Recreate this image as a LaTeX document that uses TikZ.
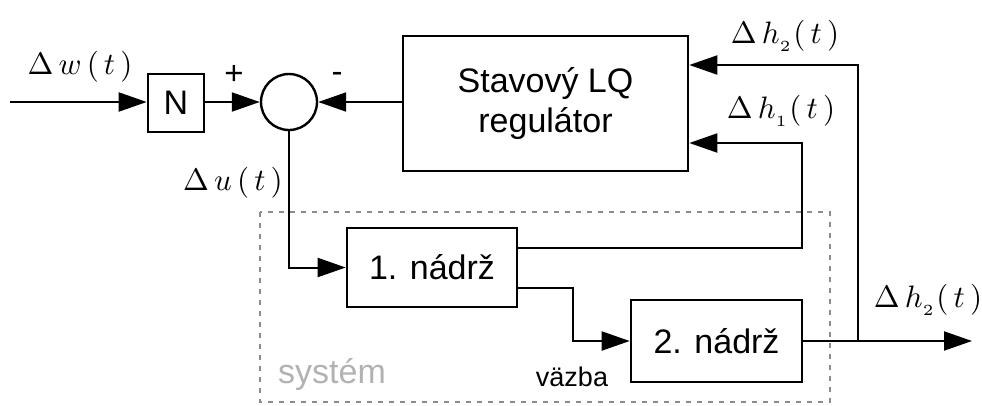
\documentclass[tikz,border=0pt]{standalone}
\usepackage[no-math]{fontspec}
\setmainfont{Liberation Sans}
\usetikzlibrary{arrows.meta}
\newcommand{\bigmath}[1]{\scalebox{3.1}{$#1$}}
\begin{document}
\begin{tikzpicture}[x=1pt,y=-1pt,
  blk/.style={draw, line width=2.6pt, inner sep=0pt, align=center, font=\fontsize{34}{40}\selectfont},
  sumc/.style={draw, circle, line width=2.4pt, inner sep=0pt, minimum size=56pt},
  arr/.style={line width=2pt, -{Triangle[length=28pt,width=19pt]}},
  mlbl/.style={inner sep=0pt},
  sgn/.style={font=\fontsize{33}{38}\selectfont, inner sep=0pt},
  sysbox/.style={draw=black!45, line width=2pt, dash pattern=on 5pt off 6pt}]
\useasboundingbox (0,0) rectangle (982,405);
% system frame
\draw[sysbox] (260,212) rectangle (830,402);
% blocks
\node[blk, minimum width=56pt, minimum height=58pt] (N) at (176,103) {N};
\node[sumc] (sum) at (289,102) {};
\node[blk, minimum width=285pt, minimum height=135pt] (reg) at (545.5,103.5) {Stavový LQ\\regulátor};
\node[blk, minimum width=170pt, minimum height=79pt] (t1) at (432,267.5) {1. nádrž};
\node[blk, minimum width=171pt, minimum height=82pt] (t2) at (716.5,341) {2. nádrž};
% coordinates
\coordinate (in) at (10,102);
\coordinate (k1a) at (802,248);
\coordinate (k1b) at (802,143);
\coordinate (k2a) at (573,288);
\coordinate (k2b) at (573,341);
\coordinate (br) at (858,341);
\coordinate (tr) at (858,65);
\coordinate (out) at (972,341);
% connectors
\draw[arr] (in) -- (N.west |- in);
\draw[arr] (N.east |- sum) -- (sum.west);
\draw[arr] (reg.west |- sum) -- (sum.east);
\draw[arr] (sum.south) |- (t1.west);
\draw[arr] (t1.east |- k1a) -- (k1a) -- (k1b) -- (reg.east |- k1b);
\draw[arr] (t1.east |- k2a) -- (k2a) -- (k2b) -- (t2.west |- k2b);
\draw[arr] (t2.east |- out) -- (out);
\draw[arr] (br) -- (tr) -- (reg.east |- tr);
% labels
\node[mlbl] (lw) at (80,67) {\bigmath{\Delta\,w\,(\,t\,)}};
\node[mlbl] (lu) at (233,183) {\bigmath{\Delta\,u\,(\,t\,)}};
\node[mlbl] (lh2a) at (785,36) {\bigmath{\Delta\,h_{_2}(\,t\,)}};
\node[mlbl] (lh1) at (781,111) {\bigmath{\Delta\,h_{_1}(\,t\,)}};
\node[mlbl] (lh2b) at (928,300) {\bigmath{\Delta\,h_{_2}(\,t\,)}};
\node[sgn] (plus) at (234,75) {+};
\node[sgn] (minus) at (337,77) {-};
\node[font=\fontsize{34}{40}\selectfont, text=black!30, inner sep=0pt] (sys) at (332,375) {systém};
\node[font=\fontsize{27}{32}\selectfont, inner sep=0pt] (vaz) at (572,377) {väzba};
\end{tikzpicture}
\end{document}
